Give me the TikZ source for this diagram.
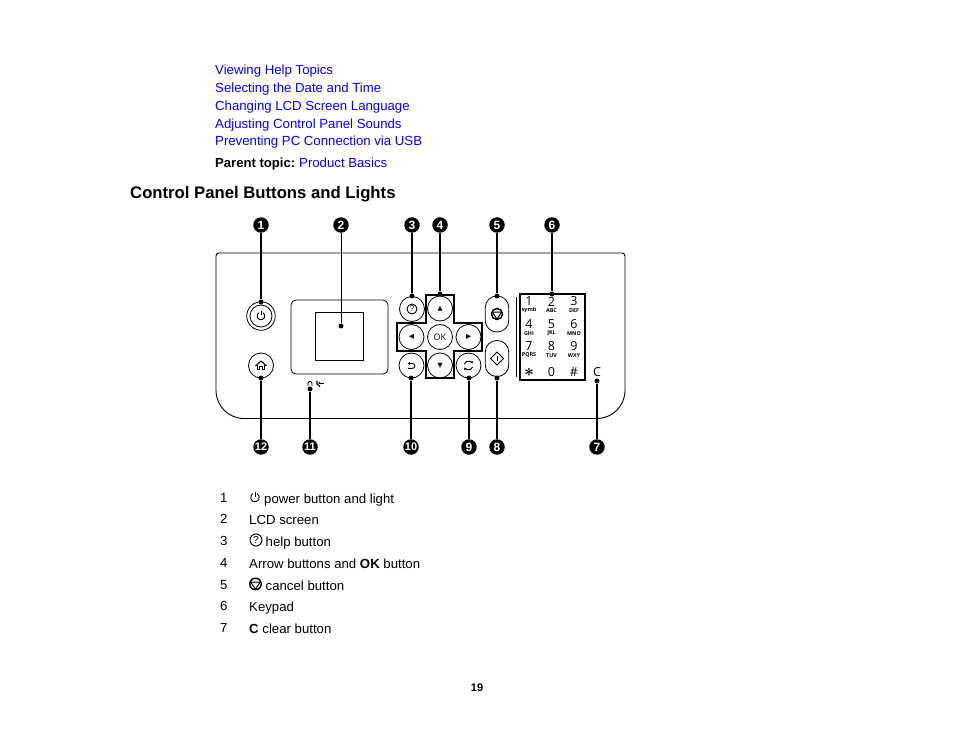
\documentclass[tikz,border=0pt]{standalone}
\usepackage{fontspec}
\usepackage{tikz}
\setmainfont{Liberation Sans}
\newfontfamily\keyfont{Open Sans}
\newfontfamily\dejavu{DejaVu Sans}
\definecolor{linkblue}{RGB}{0,0,255}
\usetikzlibrary{arrows.meta}
\tikzset{
	plaintext/.style={anchor=base west,inner sep=0,font=\fontsize{13.2}{15}\selectfont},
	linktext/.style={plaintext,text=linkblue},
	callout/.style={circle,fill=black,text=white,inner sep=0,minimum size=15.5,font=\bfseries\fontsize{12}{12}\selectfont},
	pointdot/.style={circle,fill=black,inner sep=0,minimum size=5},
	leader/.style={line width=1.3},
	roundbtn/.style={draw,circle,inner sep=0,minimum size=25,line width=.8},
	pillbtn/.style={draw,rectangle,rounded corners=11.5,inner sep=0,minimum width=23.5,line width=.8},
	arrowmark/.style={font=\dejavu\fontsize{6.5}{7}\selectfont},
	keydigit/.style={inner sep=0,font=\keyfont\fontsize{12.5}{12}\selectfont},
	keysub/.style={inner sep=0,font=\keyfont\bfseries\fontsize{5.4}{6}\selectfont},
	pics/powericon/.style={code={
		\draw[line width=.9] (-60:3.8) arc[start angle=-60,end angle=240,radius=3.8];
		\draw[line width=.9] (0,-5) -- (0,-.8);
	}},
	pics/helpicon/.style={code={
		\draw[line width=.9] (0,0) circle (5);
		\node[inner sep=0,transform shape,font=\fontsize{8.5}{9}\selectfont] at (0,0) {?};
	}},
	pics/cancelicon/.style={code={
		\draw[line width=1.4] (0,0) circle (4.8);
		\draw[line width=1] (-4,-1.6) -- (4,-1.6) -- (0,4.4) -- cycle;
	}},
	pics/starticon/.style={code={
		\draw[line width=1] (0,-6.5) -- (6.5,0) -- (0,6.5) -- (-6.5,0) -- cycle;
		\draw[line width=1] (0,-2.5) -- (0,2.5);
	}},
	pics/homeicon/.style={code={
		\draw[line width=1.1,line join=round] (-6.4,.5) -- (0,-5.4) -- (6.4,.5);
		\draw[line width=1.1] (-4.2,-1) -- (-4.2,5) -- (-1.3,5) -- (-1.3,1.5) -- (1.3,1.5) -- (1.3,5) -- (4.2,5) -- (4.2,-1);
	}},
	pics/returnicon/.style={code={
		\draw[line width=.9,-{Latex[length=2.4,width=3.4]}] (-3.5,2.8) -- (1,2.8) arc[start angle=90,end angle=-90,radius=2.4] -- (-4,-2);
	}},
	pics/refreshicon/.style={code={
		\draw[line width=1,-{Latex[length=2.2,width=3.2]}] (200:4.4) arc[start angle=200,end angle=335,radius=4.4];
		\draw[line width=1,-{Latex[length=2.2,width=3.2]}] (20:4.4) arc[start angle=20,end angle=155,radius=4.4];
	}}
}
\begin{document}
\begin{tikzpicture}[x=1pt,y=-1pt]
	\useasboundingbox (0,0) rectangle (954,738);
	% links and heading
	\node[linktext] (link1) at (215,74.5) {Viewing Help Topics};
	\node[linktext] (link2) at (215,92.5) {Selecting the Date and Time};
	\node[linktext] (link3) at (215,110.5) {Changing LCD Screen Language};
	\node[linktext] (link4) at (215,128.5) {Adjusting Control Panel Sounds};
	\node[linktext] (link5) at (215,145.5) {Preventing PC Connection via USB};
	\node[plaintext,font=\bfseries\fontsize{13.1}{15}\selectfont] (parent) at (215,167.5) {Parent topic:};
	\node[linktext] (parentlink) at (299,167.5) {Product Basics};
	\node[plaintext,font=\bfseries\fontsize{16.7}{18}\selectfont] (title) at (130,198.5) {Control Panel Buttons and Lights};
	% panel outline
	\draw[line width=.9] (216,300) [rounded corners=3] -- (216,253) -- (625,253) -- (625,300) [rounded corners=28] -- (625,418.5) -- (216,418.5) -- cycle;
	% left side buttons and screen
	\node[roundbtn,minimum size=28.5] (power) at (261,316) {};
	\node[roundbtn,minimum size=22] (powerin) at (261,316) {};
	\node[roundbtn] (home) at (261,365.5) {};
	\draw[line width=.8,rounded corners=5] (291,300) rectangle (388,374);
	\node[draw,rectangle,inner sep=0,minimum width=48,minimum height=48,line width=.9] (screen) at (339.5,336) {};
	\pic at (261,316) {powericon};
	\pic[scale=.85] at (261,365.5) {homeicon};
	% small lights under the screen
	\draw[line width=.9] (308,386) -- (308,383.5) arc[start angle=180,end angle=360,radius=2] -- (312,386);
	\draw[line width=1.1] (317,380.5) -- (317,384) -- (320,386.5);
	\draw[line width=1,-{Latex[length=2.2,width=3]}] (324,383) -- (318,383);
	% arrow pad
	\draw[line width=1.5] (426,295) -- (454,295) -- (454,323) -- (482,323) -- (482,351) -- (454,351) -- (454,378) -- (426,378) -- (426,351) -- (397,351) -- (397,323) -- (426,323) -- cycle;
	\node[roundbtn] (help) at (412,309) {};
	\node[roundbtn,arrowmark] (up) at (440,308.5) {▲};
	\node[roundbtn,arrowmark] (left) at (411.5,337) {◀};
	\node[roundbtn,font=\keyfont\fontsize{9}{9}\selectfont] (ok) at (440,337) {OK};
	\node[roundbtn,arrowmark] (right) at (468.5,337) {▶};
	\node[roundbtn,arrowmark] (down) at (440,365.5) {▼};
	\node[roundbtn] (back) at (411.5,365.5) {};
	\node[roundbtn] (refresh) at (468.5,365.5) {};
	\pic at (412,309) {helpicon};
	\pic at (411.5,365.5) {returnicon};
	\pic at (468.5,365.5) {refreshicon};
	% cancel and start
	\node[pillbtn,minimum height=36] (cancel) at (497,314) {};
	\node[pillbtn,minimum height=36] (start) at (497,358.5) {};
	\pic[scale=1.15] at (497,314) {cancelicon};
	\pic at (497,358.5) {starticon};
	% keypad
	\coordinate (septop) at (516,297);
	\coordinate (sepbot) at (516,377);
	\draw[line width=.9] (septop) -- (sepbot);
	\node[draw,rectangle,inner sep=0,minimum width=65,minimum height=86,line width=1.5] (keypad) at (552.5,337) {};
	\node[keydigit] (k1) at (529,301.5) {1};
	\node[keydigit] (k2) at (551.5,301.5) {2};
	\node[keydigit] (k3) at (574,301.5) {3};
	\node[keydigit] (k4) at (529,324.5) {4};
	\node[keydigit] (k5) at (551.5,324.5) {5};
	\node[keydigit] (k6) at (574,324.5) {6};
	\node[keydigit] (k7) at (529,346.5) {7};
	\node[keydigit] (k8) at (551.5,346.5) {8};
	\node[keydigit] (k9) at (574,346.5) {9};
	\node[inner sep=0,font=\boldmath\fontsize{19}{19}\selectfont] (kstar) at (529,372.5) {$\ast$};
	\node[keydigit] (k0) at (551.5,372) {0};
	\node[keydigit] (khash) at (574,372) {\#};
	\node[keysub] (s1) at (529,310.5) {symb};
	\node[keysub] (s2) at (551.5,310.5) {ABC};
	\node[keysub] (s3) at (574,310.5) {DEF};
	\node[keysub] (s4) at (529,333.5) {GHI};
	\node[keysub] (s5) at (551.5,333.5) {JKL};
	\node[keysub] (s6) at (574,333.5) {MNO};
	\node[keysub] (s7) at (529,355.5) {PQRS};
	\node[keysub] (s8) at (551.5,355.5) {TUV};
	\node[keysub] (s9) at (574,355.5) {WXY};
	\node[inner sep=0,font=\keyfont\fontsize{12.5}{12}\selectfont] (clear) at (597,372) {C};
	% callouts
	\node[callout] (c1) at (261,225) {1};
	\node[callout] (c2) at (341,225) {2};
	\node[callout] (c3) at (412,225) {3};
	\node[callout] (c4) at (440,225) {4};
	\node[callout] (c5) at (497,225) {5};
	\node[callout] (c6) at (552,225) {6};
	\node[callout] (c7) at (597,447) {7};
	\node[callout] (c8) at (497,447) {8};
	\node[callout] (c9) at (469,447) {9};
	\node[callout,font=\bfseries\fontsize{11}{12}\selectfont] (c10) at (411,447) {10};
	\node[callout,font=\bfseries\fontsize{11}{12}\selectfont] (c11) at (310,447) {11};
	\node[callout,font=\bfseries\fontsize{11}{12}\selectfont] (c12) at (261,447) {12};
	\node[pointdot] (d1) at (261,302) {};
	\node[pointdot] (d2) at (341,326) {};
	\node[pointdot] (d3) at (412,296) {};
	\node[pointdot] (d4) at (440,294) {};
	\node[pointdot] (d5) at (497,296) {};
	\node[pointdot] (d6) at (552,294) {};
	\node[pointdot] (d7) at (597,381) {};
	\node[pointdot] (d8) at (497,378) {};
	\node[pointdot] (d9) at (469,378) {};
	\node[pointdot] (d10) at (411,378) {};
	\node[pointdot] (d11) at (310,389) {};
	\node[pointdot] (d12) at (261,378) {};
	\draw[leader] (c1) -- (d1);
	\draw[leader,line width=.8] (c2) -- (d2);
	\draw[leader] (c3) -- (d3);
	\draw[leader] (c4) -- (d4);
	\draw[leader] (c5) -- (d5);
	\draw[leader] (c6) -- (d6);
	\draw[leader] (c7) -- (d7);
	\draw[leader] (c8) -- (d8);
	\draw[leader] (c9) -- (d9);
	\draw[leader] (c10) -- (d10);
	\draw[leader] (c11) -- (d11);
	\draw[leader] (c12) -- (d12);
	% legend
	\node[plaintext] (n1) at (220,502) {1};
	\node[plaintext] (n2) at (220,523.5) {2};
	\node[plaintext] (n3) at (220,545) {3};
	\node[plaintext] (n4) at (220,567) {4};
	\node[plaintext] (n5) at (220,589) {5};
	\node[plaintext] (n6) at (220,610.5) {6};
	\node[plaintext] (n7) at (220,632) {7};
	\pic[scale=1.15] at (255,497.5) {powericon};
	\node[plaintext] (t1) at (264,503) {power button and light};
	\node[plaintext] (t2) at (249,524) {LCD screen};
	\pic[scale=1.2] at (256,540) {helpicon};
	\node[plaintext] (t3) at (265.5,546) {help button};
	\node[plaintext] (t4) at (249,568) {Arrow buttons and \textbf{OK} button};
	\pic[scale=1.2] at (255.5,584) {cancelicon};
	\node[plaintext] (t5) at (265.5,590) {cancel button};
	\node[plaintext] (t6) at (249,611) {Keypad};
	\node[plaintext] (t7) at (249,633) {\textbf{C} clear button};
	\node[inner sep=0,font=\bfseries\fontsize{11}{12}\selectfont] (pagenum) at (477,688) {19};
\end{tikzpicture}
\end{document}
